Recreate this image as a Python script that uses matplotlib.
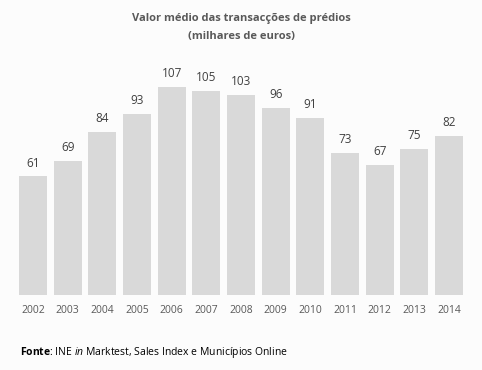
import matplotlib
matplotlib.use("Agg")
import matplotlib.pyplot as plt

years = ["2002", "2003", "2004", "2005", "2006", "2007", "2008",
         "2009", "2010", "2011", "2012", "2013", "2014"]
values = [61, 69, 84, 93, 107, 105, 103, 96, 91, 73, 67, 75, 82]

plt.rcParams["font.family"] = ["Open Sans", "DejaVu Sans"]
plt.rcParams["mathtext.fontset"] = "custom"
plt.rcParams["mathtext.rm"] = "Open Sans"
plt.rcParams["mathtext.bf"] = "Open Sans:bold"
plt.rcParams["mathtext.it"] = "Open Sans:italic"

W, H = 482, 370
fig = plt.figure(figsize=(W / 100, H / 100), dpi=100, facecolor="#fcfcfc")
# axes: x from 15.7 to 466.3 px, y zero at 295 px, top at 295-120*1.945
ax = fig.add_axes([15.7 / W, (H - 295) / H, 450.6 / W, 233.4 / H])
ax.set_facecolor("#fcfcfc")

x = range(len(years))
ax.bar(x, values, width=0.81, color="#d9d9d9")
for xi, v in zip(x, values):
    ax.text(xi, v + 3.5, str(v), ha="center", va="bottom", fontsize=8.5, color="#404040")

ax.set_xlim(-0.5, len(years) - 0.5)
ax.set_ylim(0, 120)
ax.set_xticks(list(x))
ax.set_xticklabels(years, fontsize=7.5, color="#595959")
ax.tick_params(axis="x", length=0, pad=7)
ax.set_yticks([])
for s in ax.spines.values():
    s.set_visible(False)

fig.text(241 / W, 1 - 18 / H, "Valor médio das transacções de prédios",
         ha="center", va="center", fontsize=8, fontweight="bold", color="#595959")
fig.text(241 / W, 1 - 37 / H, "(milhares de euros)",
         ha="center", va="center", fontsize=8, fontweight="bold", color="#595959")

fig.text(20 / W, 1 - 353 / H,
         r"$\bf{Fonte}$: INE $\it{in}$ Marktest, Sales Index e Municípios Online",
         ha="left", va="center", fontsize=7.5, color="#000000")

fig.savefig("out.png", dpi=100, facecolor=fig.get_facecolor())
